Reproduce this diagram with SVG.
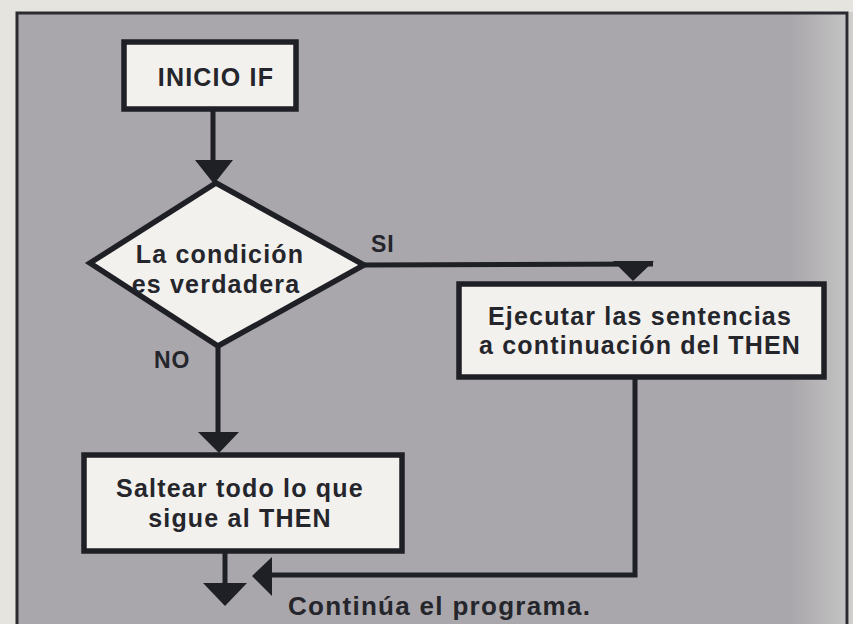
<svg xmlns="http://www.w3.org/2000/svg" width="853" height="624" viewBox="0 0 853 624">
  <defs>
    <linearGradient id="edge" x1="0" y1="0" x2="1" y2="0">
      <stop offset="0" stop-color="#c4c3c4" stop-opacity="0"/>
      <stop offset="1" stop-color="#c8c7c6" stop-opacity="0.9"/>
    </linearGradient>
    <style>
      .box { fill: #f2f1ee; stroke: #1f1f26; stroke-width: 5.5; }
      .line { fill: none; stroke: #1f1f26; stroke-width: 5; }
      .head { fill: #1f1f26; stroke: none; }
      .t { font-family: "Liberation Sans", Arial, sans-serif; font-weight: bold; fill: #25252c; text-anchor: middle; font-size: 25px; letter-spacing: 1.2px; }
      .lbl { font-family: "Liberation Sans", Arial, sans-serif; font-weight: bold; fill: #25252c; }
    </style>
  </defs>

  <!-- page background -->
  <rect x="0" y="0" width="853" height="624" fill="#e6e4df"/>
  <rect x="16" y="12" width="831" height="612" fill="#a9a7ab"/>
  <rect x="790" y="12" width="57" height="612" fill="url(#edge)"/>
  <path d="M17 624 V13 H847 V624" fill="none" stroke="#2a2a30" stroke-width="3"/>
  <rect x="849" y="12" width="4" height="612" fill="#cfcecb"/>

  <!-- connectors -->
  <g id="connectors">
    <line class="line" x1="213" y1="110" x2="213" y2="165"/>
    <polygon class="head" points="195,160 233,160 214,184"/>

    <polyline class="line" points="364,265 653,264"/>
    <polygon class="head" points="613,261 654,261 633,281"/>

    <line class="line" x1="218" y1="346" x2="218" y2="436"/>
    <polygon class="head" points="198,432 239,432 219,453"/>

    <polyline class="line" points="635,378 635,575 262,575"/>
    <polygon class="head" points="272,557 272,596 252,576"/>

    <line class="line" x1="225" y1="552" x2="225" y2="588"/>
    <polygon class="head" points="203,583 247,583 225,606"/>

    <text class="lbl" x="371" y="252" font-size="23" letter-spacing="1">SI</text>
    <text class="lbl" x="154" y="368" font-size="23" letter-spacing="1">NO</text>
  </g>

  <g id="inicio">
    <rect class="box" x="124" y="42" width="172" height="67"/>
    <text class="t" x="216" y="86" font-size="26" letter-spacing="1.3">INICIO IF</text>
  </g>

  <g id="condicion">
    <polygon class="box" points="216,183 364,265 218,346 90,263"/>
    <text class="t" x="220" y="263" letter-spacing="2">La condición</text>
    <text class="t" x="216" y="293" letter-spacing="1.6">es verdadera</text>
  </g>

  <g id="ejecutar">
    <rect class="box" x="459" y="284" width="365" height="93"/>
    <text class="t" x="640" y="325">Ejecutar las sentencias</text>
    <text class="t" x="640" y="354">a continuación del THEN</text>
  </g>

  <g id="saltear">
    <rect class="box" x="84" y="455" width="318" height="96"/>
    <text class="t" x="240" y="497" letter-spacing="1.3">Saltear todo lo que</text>
    <text class="t" x="240" y="527" letter-spacing="1.3">sigue al THEN</text>
  </g>

  <g id="continua">
    <text class="lbl" x="288" y="615" font-size="26" letter-spacing="1.3">Continúa el programa.</text>
  </g>
</svg>
